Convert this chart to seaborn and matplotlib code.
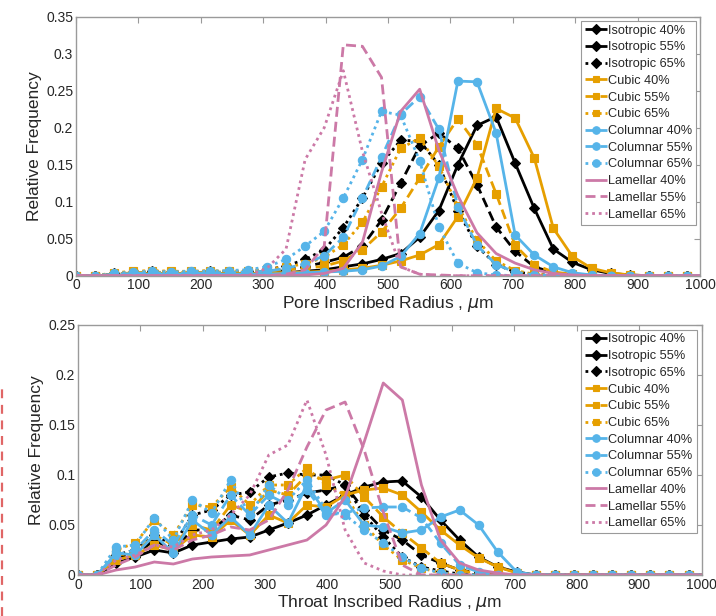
import numpy as np
import pandas as pd
import matplotlib
matplotlib.use("Agg")
import matplotlib.pyplot as plt
from matplotlib.lines import Line2D
import seaborn as sns

# ---------------- data ----------------
radius = [0.0, 30.6, 61.2, 91.8, 122.4, 153.0, 183.6, 214.2, 244.8, 275.4, 306.0,
          336.6, 367.2, 397.8, 428.4, 459.0, 489.6, 520.2, 550.8, 581.4, 612.0,
          642.6, 673.2, 703.8, 734.4, 765.0, 795.6, 826.2, 856.8, 887.4, 918.0,
          948.6, 979.2, 1009.8]

series_names = ["Isotropic 40%", "Isotropic 55%", "Isotropic 65%",
                "Cubic 40%", "Cubic 55%", "Cubic 65%",
                "Columnar 40%", "Columnar 55%", "Columnar 65%",
                "Lamellar 40%", "Lamellar 55%", "Lamellar 65%"]

# Pore inscribed radius distributions (top panel)
pore_iso40 = [0, 0, 0, 0.002, 0.003, 0.002, 0.003, 0.003, 0.002, 0.003, 0.003, 0.004, 0.006, 0.008, 0.012, 0.016, 0.022, 0.030, 0.052, 0.088, 0.150, 0.203, 0.215, 0.152, 0.091, 0.036, 0.018, 0.008, 0.003, 0.001, 0, 0, 0, 0]
pore_iso55 = [0, 0, 0.002, 0.003, 0.004, 0.003, 0.003, 0.004, 0.004, 0.004, 0.005, 0.008, 0.012, 0.018, 0.025, 0.040, 0.075, 0.125, 0.175, 0.193, 0.172, 0.123, 0.066, 0.033, 0.012, 0.004, 0.001, 0, 0, 0, 0, 0, 0, 0]
pore_iso65 = [0, 0, 0.003, 0.005, 0.006, 0.005, 0.005, 0.006, 0.005, 0.006, 0.008, 0.013, 0.022, 0.035, 0.065, 0.105, 0.152, 0.183, 0.182, 0.150, 0.088, 0.040, 0.015, 0.005, 0.002, 0, 0, 0, 0, 0, 0, 0, 0, 0]
pore_cub40 = [0, 0, 0, 0.002, 0.003, 0.003, 0.003, 0.003, 0.003, 0.003, 0.003, 0.004, 0.005, 0.006, 0.008, 0.010, 0.014, 0.020, 0.028, 0.042, 0.080, 0.132, 0.226, 0.213, 0.159, 0.064, 0.026, 0.010, 0.004, 0.001, 0, 0, 0, 0]
pore_cub55 = [0, 0, 0.002, 0.004, 0.005, 0.004, 0.004, 0.005, 0.005, 0.005, 0.006, 0.008, 0.010, 0.013, 0.020, 0.035, 0.059, 0.091, 0.132, 0.174, 0.212, 0.177, 0.111, 0.041, 0.015, 0.005, 0.002, 0, 0, 0, 0, 0, 0, 0]
pore_cub65 = [0, 0, 0.004, 0.006, 0.007, 0.006, 0.006, 0.007, 0.006, 0.007, 0.009, 0.012, 0.016, 0.025, 0.042, 0.072, 0.120, 0.172, 0.186, 0.148, 0.094, 0.048, 0.020, 0.007, 0.002, 0, 0, 0, 0, 0, 0, 0, 0, 0]
pore_col40 = [0, 0, 0, 0.001, 0.002, 0.002, 0.002, 0.002, 0.002, 0.002, 0.002, 0.003, 0.004, 0.005, 0.006, 0.008, 0.013, 0.026, 0.057, 0.132, 0.263, 0.262, 0.193, 0.055, 0.028, 0.012, 0.004, 0.001, 0, 0, 0, 0, 0, 0]
pore_col55 = [0, 0, 0.002, 0.003, 0.004, 0.003, 0.003, 0.004, 0.004, 0.005, 0.006, 0.010, 0.016, 0.027, 0.052, 0.105, 0.160, 0.218, 0.242, 0.198, 0.093, 0.041, 0.015, 0.005, 0.001, 0, 0, 0, 0, 0, 0, 0, 0, 0]
pore_col65 = [0, 0, 0.003, 0.005, 0.006, 0.005, 0.006, 0.006, 0.007, 0.008, 0.012, 0.022, 0.040, 0.060, 0.105, 0.157, 0.222, 0.217, 0.155, 0.066, 0.017, 0.004, 0.001, 0, 0, 0, 0, 0, 0, 0, 0, 0, 0, 0]
pore_lam40 = [0, 0, 0, 0, 0, 0, 0, 0, 0, 0, 0, 0, 0.001, 0.003, 0.010, 0.045, 0.140, 0.222, 0.252, 0.170, 0.108, 0.058, 0.030, 0.017, 0.008, 0.003, 0.001, 0, 0, 0, 0, 0, 0, 0]
pore_lam55 = [0, 0, 0, 0, 0, 0, 0, 0, 0, 0, 0, 0.002, 0.008, 0.040, 0.312, 0.310, 0.268, 0.012, 0.002, 0.001, 0, 0, 0, 0, 0, 0, 0, 0, 0, 0, 0, 0, 0, 0]
pore_lam65 = [0, 0, 0, 0, 0, 0, 0, 0, 0, 0, 0.010, 0.036, 0.157, 0.200, 0.277, 0.168, 0.085, 0.012, 0.002, 0, 0, 0, 0, 0, 0, 0, 0, 0, 0, 0, 0, 0, 0, 0]

# Throat inscribed radius distributions (bottom panel)
thr_iso40 = [0, 0, 0.012, 0.018, 0.025, 0.022, 0.030, 0.033, 0.036, 0.038, 0.045, 0.052, 0.060, 0.070, 0.080, 0.088, 0.093, 0.094, 0.078, 0.055, 0.035, 0.018, 0.008, 0.003, 0, 0, 0, 0, 0, 0, 0, 0, 0, 0]
thr_iso55 = [0, 0, 0.018, 0.020, 0.035, 0.025, 0.045, 0.045, 0.060, 0.055, 0.070, 0.075, 0.082, 0.085, 0.090, 0.065, 0.045, 0.035, 0.020, 0.012, 0.005, 0.002, 0, 0, 0, 0, 0, 0, 0, 0, 0, 0, 0, 0]
thr_iso65 = [0, 0, 0.020, 0.025, 0.040, 0.030, 0.060, 0.065, 0.080, 0.083, 0.098, 0.102, 0.100, 0.100, 0.090, 0.060, 0.038, 0.018, 0.008, 0.004, 0.001, 0, 0, 0, 0, 0, 0, 0, 0, 0, 0, 0, 0, 0]
thr_cub40 = [0, 0, 0.015, 0.020, 0.030, 0.025, 0.040, 0.038, 0.055, 0.040, 0.060, 0.052, 0.070, 0.068, 0.080, 0.085, 0.087, 0.080, 0.063, 0.045, 0.030, 0.017, 0.008, 0.002, 0, 0, 0, 0, 0, 0, 0, 0, 0, 0]
thr_cub55 = [0, 0, 0.020, 0.022, 0.040, 0.030, 0.050, 0.045, 0.070, 0.063, 0.085, 0.080, 0.100, 0.095, 0.100, 0.078, 0.058, 0.042, 0.027, 0.012, 0.005, 0.001, 0, 0, 0, 0, 0, 0, 0, 0, 0, 0, 0, 0]
thr_cub65 = [0, 0, 0.025, 0.032, 0.055, 0.040, 0.070, 0.068, 0.088, 0.070, 0.090, 0.090, 0.107, 0.090, 0.080, 0.050, 0.030, 0.015, 0.007, 0.002, 0, 0, 0, 0, 0, 0, 0, 0, 0, 0, 0, 0, 0, 0]
thr_col40 = [0, 0, 0.022, 0.020, 0.040, 0.022, 0.055, 0.040, 0.058, 0.040, 0.070, 0.052, 0.090, 0.062, 0.075, 0.050, 0.048, 0.042, 0.045, 0.058, 0.065, 0.050, 0.023, 0.003, 0, 0, 0, 0, 0, 0, 0, 0, 0, 0]
thr_col55 = [0, 0, 0.020, 0.025, 0.045, 0.030, 0.060, 0.050, 0.080, 0.060, 0.080, 0.070, 0.085, 0.060, 0.062, 0.067, 0.068, 0.068, 0.057, 0.032, 0.010, 0.003, 0, 0, 0, 0, 0, 0, 0, 0, 0, 0, 0, 0]
thr_col65 = [0, 0, 0.028, 0.030, 0.057, 0.035, 0.075, 0.062, 0.095, 0.060, 0.090, 0.075, 0.095, 0.065, 0.060, 0.045, 0.032, 0.018, 0.007, 0.002, 0, 0, 0, 0, 0, 0, 0, 0, 0, 0, 0, 0, 0, 0]
thr_lam40 = [0, 0, 0.005, 0.008, 0.013, 0.011, 0.016, 0.018, 0.019, 0.020, 0.025, 0.030, 0.035, 0.050, 0.078, 0.133, 0.192, 0.175, 0.090, 0.035, 0.012, 0.005, 0.002, 0, 0, 0, 0, 0, 0, 0, 0, 0, 0, 0]
thr_lam55 = [0, 0, 0.010, 0.018, 0.030, 0.025, 0.035, 0.040, 0.048, 0.045, 0.055, 0.085, 0.128, 0.165, 0.173, 0.125, 0.063, 0.010, 0, 0, 0, 0, 0, 0, 0, 0, 0, 0, 0, 0, 0, 0, 0, 0]
thr_lam65 = [0, 0, 0.015, 0.020, 0.030, 0.028, 0.040, 0.045, 0.060, 0.080, 0.120, 0.130, 0.175, 0.120, 0.045, 0.012, 0.004, 0, 0, 0, 0, 0, 0, 0, 0, 0, 0, 0, 0, 0, 0, 0, 0, 0]

pore_series = [pore_iso40, pore_iso55, pore_iso65, pore_cub40, pore_cub55, pore_cub65,
               pore_col40, pore_col55, pore_col65, pore_lam40, pore_lam55, pore_lam65]
throat_series = [thr_iso40, thr_iso55, thr_iso65, thr_cub40, thr_cub55, thr_cub65,
                 thr_col40, thr_col55, thr_col65, thr_lam40, thr_lam55, thr_lam65]

x_ticks = [0, 100, 200, 300, 400, 500, 600, 700, 800, 900, 1000]
pore_yticks = [0, 0.05, 0.1, 0.15, 0.2, 0.25, 0.3, 0.35]
pore_ylabels = ["0", "0.05", "0.1", "0.15", "0.2", "0.25", "0.3", "0.35"]
thr_yticks = [0, 0.05, 0.1, 0.15, 0.2, 0.25]
thr_ylabels = ["0", "0.05", "0.1", "0.15", "0.2", "0.25"]

# ---------------- style ----------------
sns.set_style("white")
plt.rcParams["font.family"] = ["Liberation Sans", "DejaVu Sans"]
plt.rcParams["mathtext.fontset"] = "dejavusans"

family_colors = ["#000000"] * 3 + ["#E69F00"] * 3 + ["#56B4E9"] * 3 + ["#CC79A7"] * 3
family_markers = ["D"] * 3 + ["s"] * 3 + ["o"] * 3 + [None] * 3
marker_sizes = [5.2] * 3 + [5.2] * 3 + [6.0] * 3 + [0] * 3
styles = [(0, ()), (0, (3.6, 1.8)), (0, (1.0, 1.4))] * 4

text_col = "#262626"
spine_col = "#9A9A9A"

fig = plt.figure(figsize=(7.16, 6.16), dpi=100)
ax_top = fig.add_axes([76 / 716, 1 - 275.7 / 616, 624 / 716, 259 / 616])
ax_bot = fig.add_axes([78 / 716, 1 - 575 / 616, 623.5 / 716, 250 / 616])


def draw(ax, data_list, yticks, ylabels, ymax, xlabel, legend_anchor):
    for name, vals, c, m, ms, ls in zip(series_names, data_list, family_colors,
                                        family_markers, marker_sizes, styles):
        df = pd.DataFrame({"r": radius, "f": vals})
        kw = dict(color=c, linewidth=2.0, linestyle=ls, label=name, ax=ax)
        if m is not None:
            kw.update(marker=m, markersize=ms, markeredgecolor=c,
                      markerfacecolor=c, markeredgewidth=0.8)
        sns.lineplot(data=df, x="r", y="f", **kw)
    ax.set_xlim(0, 1000)
    ax.set_ylim(0, ymax)
    ax.set_xticks(x_ticks)
    ax.set_xticklabels([str(t) for t in x_ticks])
    ax.set_yticks(yticks)
    ax.set_yticklabels(ylabels)
    ax.tick_params(direction="in", length=4, width=0.8, color=spine_col,
                   labelsize=10, labelcolor=text_col, top=True, right=True,
                   pad=2)
    for s in ax.spines.values():
        s.set_color(spine_col)
        s.set_linewidth(1.0)
        s.set_visible(True)
    ax.set_xlabel(xlabel, fontsize=12.5, color=text_col, labelpad=1)
    ax.set_ylabel("Relative Frequency", fontsize=12.5, color=text_col, labelpad=3)
    handles, labels = ax.get_legend_handles_labels()
    leg = ax.legend(handles, labels, loc="upper right", bbox_to_anchor=legend_anchor,
                    fontsize=9.2, frameon=True, fancybox=False, framealpha=1,
                    edgecolor="#9A9A9A", handlelength=1.75, handletextpad=0.1,
                    labelspacing=0.37, borderpad=0.3, borderaxespad=0.0,
                    markerscale=0.9)
    leg.get_frame().set_linewidth(0.8)
    for t in leg.get_texts():
        t.set_color(text_col)


draw(ax_top, pore_series, pore_yticks, pore_ylabels, 0.35,
     r"Pore Inscribed Radius , $\mu$m", (0.994, 0.984))
draw(ax_bot, throat_series, thr_yticks, thr_ylabels, 0.25,
     r"Throat Inscribed Radius , $\mu$m", (0.992, 0.982))

# red dashed selection edge at the left of the lower panel
fig.add_artist(Line2D([2.0 / 716, 2.0 / 716], [0, 1 - 388 / 616],
                      transform=fig.transFigure, color="#E06666",
                      linewidth=1.6, linestyle=(0, (4, 3))))

fig.savefig("out.png", dpi=100, facecolor="white")
